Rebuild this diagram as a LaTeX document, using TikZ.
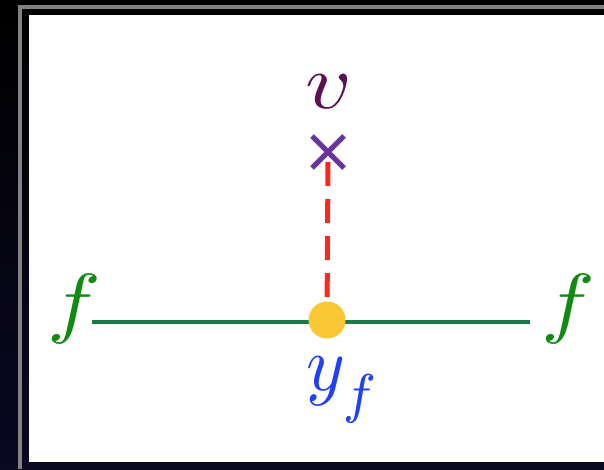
\documentclass[tikz,border=0pt]{standalone}
\usepackage{amsmath,amssymb}
\usepackage{tikz}
\usetikzlibrary{positioning,calc,shapes.misc}
\usepackage{xcolor}
\definecolor{framenavy}{RGB}{10,8,34}
\definecolor{framegray}{RGB}{130,130,130}
\definecolor{scalarpurple}{RGB}{92,16,84}
\definecolor{crosspurple}{RGB}{108,52,160}
\definecolor{propred}{RGB}{250,40,30}
\definecolor{fermiongreen}{RGB}{24,122,70}
\definecolor{labelgreen}{RGB}{16,138,16}
\definecolor{vertexgold}{RGB}{250,200,50}
\definecolor{yukawablue}{RGB}{32,64,250}
% large, slightly widened math labels
\newcommand{\biglab}[1]{\scalebox{9}[7.8]{$#1$}}

\begin{document}
\begin{tikzpicture}[x=1pt,y=-1pt]
\tikzset{
  biglabel/.style={inner sep=0pt},
  flabel/.style={biglabel,labelgreen}
}
\useasboundingbox (0,0) rectangle (604,469);
% dark slide background with gray frame
\shade[top color=black,bottom color=framenavy] (0,0) rectangle (604,469);
\draw[framegray,line width=4pt] (20,469) -- (20,6.5) -- (604,6.5);
\fill[white] (29,15) rectangle (604,462);

% fermion line
\coordinate (fin) at (92,322);
\coordinate (fout) at (530,322);
\draw[fermiongreen,line width=4.5pt] (fin) -- (fout);
\node[flabel] (fl) at (74,309) {\biglab{f}};
\node[flabel] (fr) at (568,309) {\biglab{f}};

% vev insertion
\node[cross out,draw=crosspurple,line width=5pt,minimum size=27pt,inner sep=0pt] (vx) at (328,152) {};
\node[biglabel,scalarpurple] (vlab) at (329,92) {\biglab{v}};

% Yukawa vertex
\coordinate (vtx) at (327,320);
\draw[propred,line width=5pt,dash pattern=on 24pt off 13pt] (vx.center) ++(0,10) -- (vtx);
\node[circle,fill=vertexgold,minimum size=37pt,inner sep=0pt] (yf) at (vtx) {};
\node[biglabel,yukawablue] (yflab) at (344,390) {\scalebox{7.4}[7.8]{$y_{\raisebox{-1.2pt}{$\scriptstyle f$}}$}};
\end{tikzpicture}
\end{document}
